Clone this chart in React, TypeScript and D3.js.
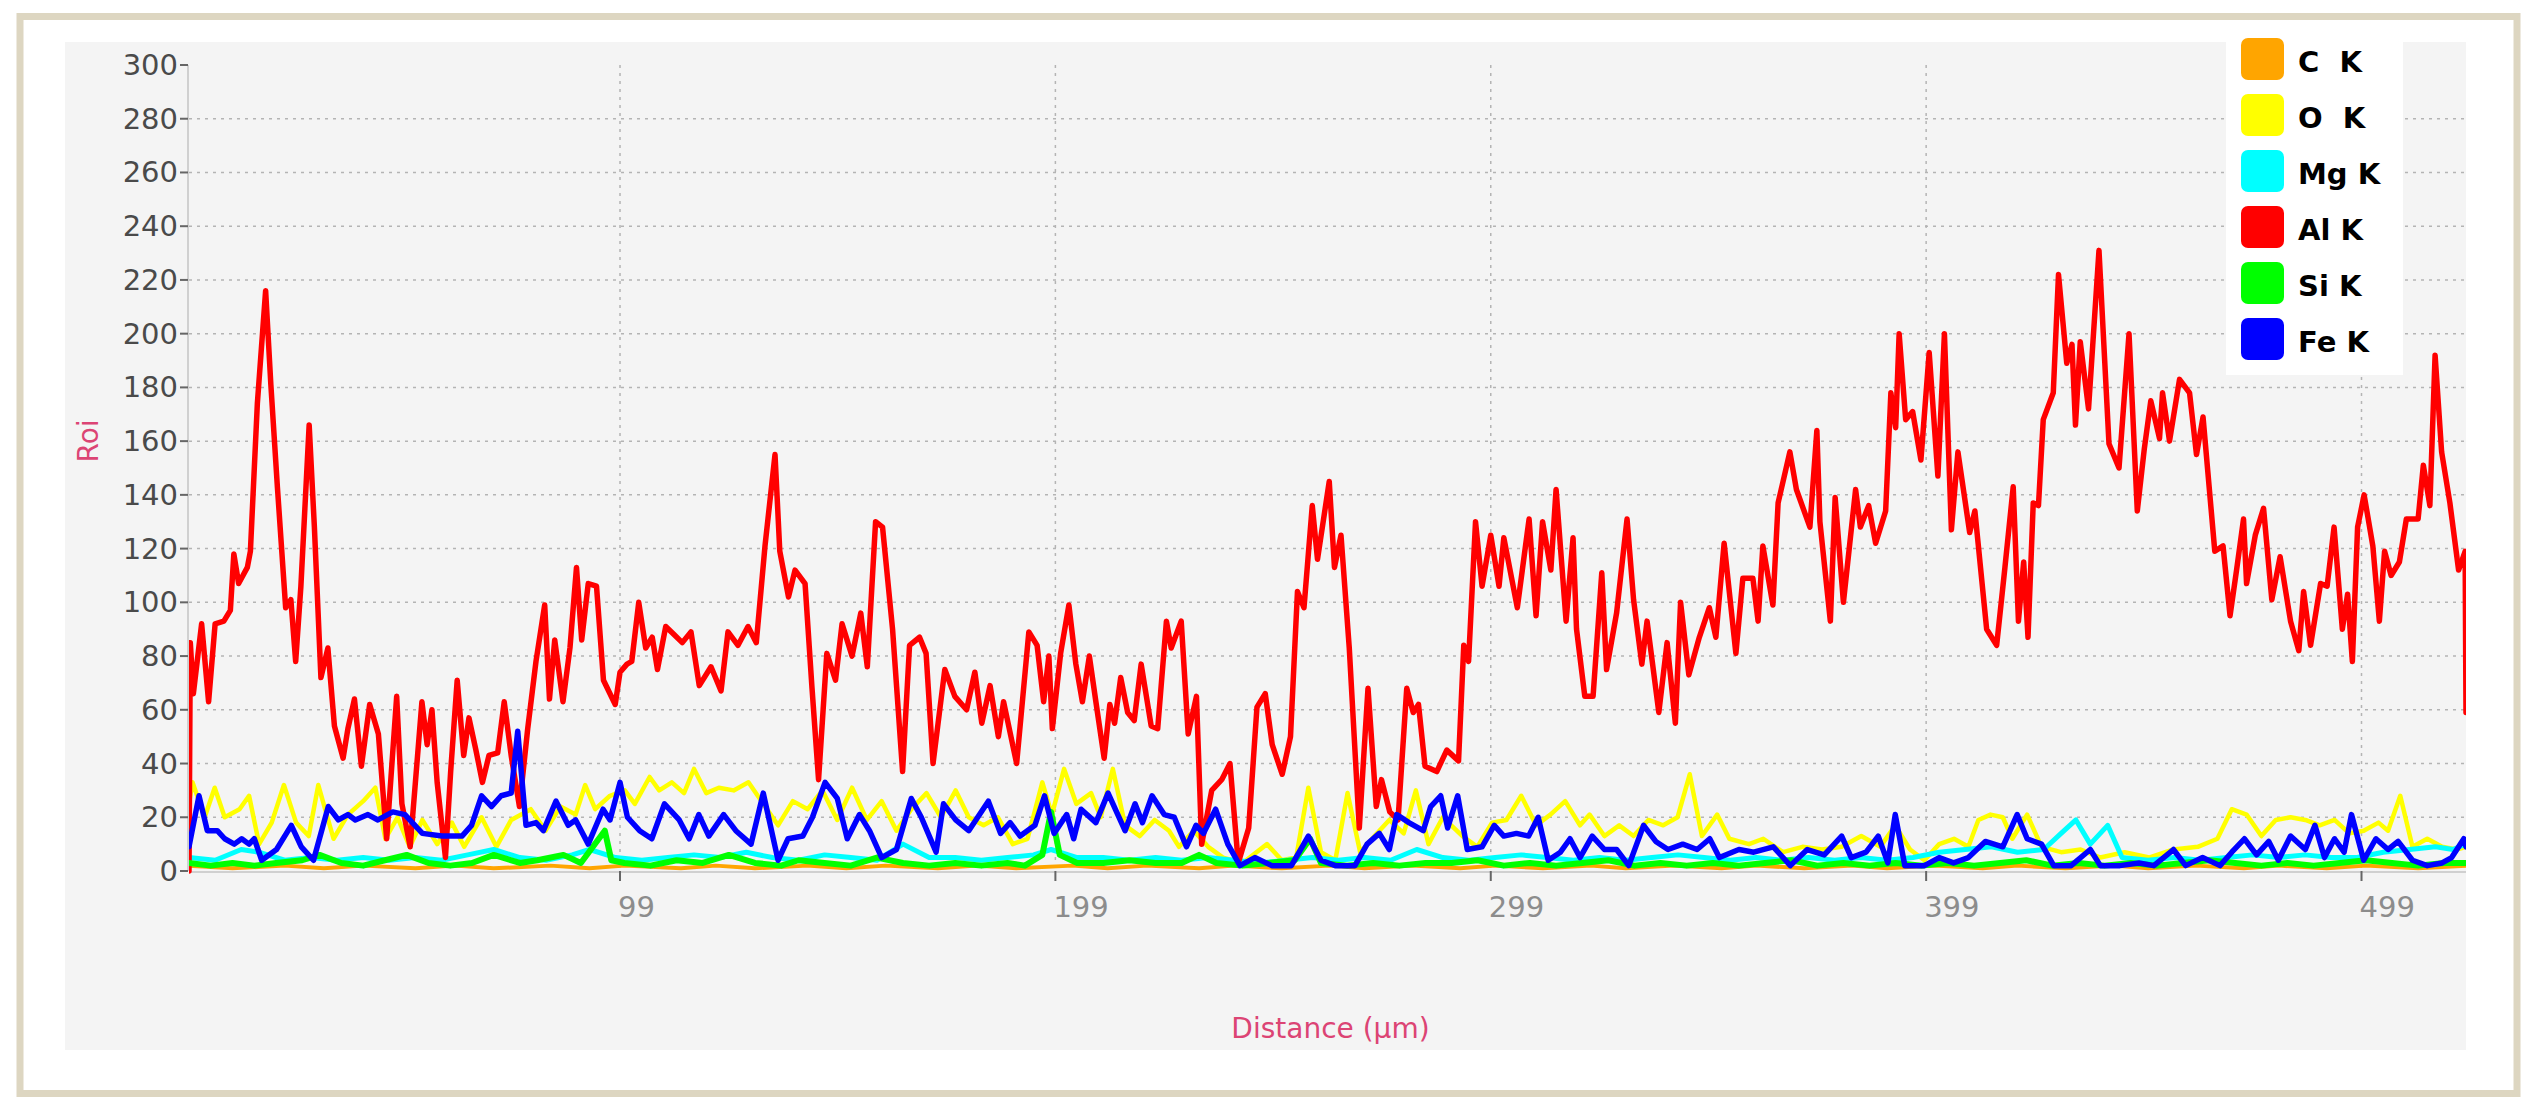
import React from 'react';
import * as d3 from 'd3';

// distance (µm) / counts pairs
const alK: [number, number][] = [
  [0, 0], [0.3, 85], [1, 66], [2.9, 92], [4.5, 63], [6, 92], [8, 93], [9.5, 97], [10.3, 118], [11.4, 107],
  [13.4, 113], [14.1, 119], [15.7, 174], [17.6, 216], [18.8, 181], [20.3, 143], [22.2, 98], [23.4, 101], [24.5, 78], [25.7, 106],
  [27.6, 166], [28.8, 128], [30.3, 72], [31.9, 83], [33.4, 54], [35.4, 42], [36.5, 53], [38, 64], [39.6, 39], [41.5, 62],
  [43.5, 51], [45.4, 12], [47.7, 65], [48.9, 25], [50.8, 9], [53.5, 63], [54.7, 47], [55.8, 60], [57, 33], [58.9, 5],
  [60.1, 37], [61.6, 71], [63.1, 43], [64.3, 57], [65.9, 45], [67.4, 33], [68.9, 43], [70.9, 44], [72.4, 63], [74, 43],
  [75.9, 24], [77.8, 53], [79.7, 78], [81.7, 99], [82.8, 64], [84, 86], [85.9, 63], [87.5, 83], [89, 113], [90.2, 86],
  [91.7, 107], [93.6, 106], [95.2, 71], [97.9, 62], [99, 74], [100.6, 77], [101.7, 78], [103.3, 100], [104.9, 83], [106.4, 87],
  [107.6, 75], [109.5, 91], [111.4, 88], [113.3, 85], [115.3, 89], [117.2, 69], [119.9, 76], [122.2, 67], [123.8, 89], [126.1, 84],
  [128.4, 91], [130.3, 85], [132.3, 121], [134.6, 155], [135.7, 119], [137.7, 102], [139.2, 112], [141.5, 107], [143.1, 68], [144.6, 34],
  [146.5, 81], [148.5, 71], [150, 92], [152.3, 80], [154.3, 96], [155.8, 76], [157.7, 130], [159.3, 128], [161.6, 90], [163.9, 37],
  [165.5, 84], [167.8, 87], [169.3, 81], [170.9, 40], [173.6, 75], [175.9, 65], [178.6, 60], [180.5, 74], [182.1, 55], [184, 69],
  [185.9, 50], [187.1, 63], [190.1, 40], [192.9, 89], [194.8, 84], [196.3, 63], [197.5, 80], [198.3, 53], [200.2, 81], [202.1, 99],
  [203.7, 77], [205.2, 63], [206.8, 80], [208.3, 63], [210.2, 42], [211.5, 62], [212.6, 55], [214, 72], [215.6, 59], [217.1, 56],
  [218.7, 77], [221, 54], [222.5, 53], [224.5, 93], [225.6, 83], [227.9, 93], [229.5, 51], [231.4, 65], [232.6, 10], [234.9, 30],
  [237.2, 34], [239.1, 40], [241, 3], [243.4, 16], [245.3, 61], [247.2, 66], [248.8, 47], [251.1, 36], [253, 50], [254.6, 104],
  [256.1, 98], [258, 136], [259.2, 116], [261.9, 145], [263.1, 113], [264.6, 125], [266.5, 83], [268.8, 16], [270.8, 68], [272.7, 24],
  [273.9, 34], [275.8, 22], [277.7, 19], [279.7, 68], [281.2, 59], [282.4, 62], [283.9, 39], [286.6, 37], [288.9, 45], [291.6, 41],
  [292.8, 84], [293.9, 78], [295.5, 130], [297, 106], [299, 125], [300.9, 106], [302, 124], [305.1, 98], [307.8, 131], [309.4, 95],
  [310.9, 130], [312.8, 112], [314, 142], [316.3, 93], [317.9, 124], [318.7, 90], [320.6, 65], [322.5, 65], [324.5, 111], [325.6, 75],
  [327.9, 96], [330.3, 131], [331.8, 101], [333.7, 77], [334.9, 93], [337.6, 59], [339.5, 85], [341.4, 55], [342.6, 100], [344.5, 73],
  [346.9, 87], [349.2, 98], [350.7, 87], [352.6, 122], [355.3, 81], [356.9, 109], [359.2, 109], [360.4, 93], [361.5, 121], [363.8, 99],
  [365, 137], [367.7, 156], [369.2, 142], [372.3, 128], [373.9, 164], [374.6, 130], [377, 93], [378.1, 139], [380, 100], [382.8, 142],
  [383.9, 128], [385.8, 136], [387.4, 122], [389.7, 134], [390.9, 178], [392, 165], [392.8, 200], [394.3, 168], [395.9, 171], [397.8, 153],
  [399.7, 193], [401.7, 147], [403.2, 200], [404.8, 127], [406.3, 156], [409, 126], [410.2, 134], [412.9, 90], [415.2, 84], [417.1, 113],
  [419, 143], [420.2, 93], [421.4, 115], [422.4, 87], [423.6, 137], [424.8, 136], [425.9, 168], [428.2, 178], [429.4, 222], [431.3, 189],
  [432.5, 196], [433.3, 166], [434.4, 197], [436.3, 172], [438.7, 231], [441, 159], [443.3, 150], [445.6, 200], [447.5, 134], [449.1, 157],
  [450.6, 175], [452.6, 161], [453.3, 178], [454.9, 160], [457.2, 183], [459.5, 178], [461.1, 155], [462.6, 169], [465.3, 119], [467.2, 121],
  [468.8, 95], [470.3, 112], [471.9, 131], [472.6, 107], [474.6, 125], [476.5, 135], [478.4, 101], [480.3, 117], [482.7, 93], [484.6, 82],
  [485.7, 104], [487.3, 84], [489.6, 107], [491.1, 106], [492.7, 128], [494.6, 90], [495.8, 103], [496.9, 78], [498.1, 128], [499.6, 140],
  [501.6, 121], [503.1, 93], [504.3, 119], [505.8, 110], [507.7, 115], [509.3, 131], [512, 131], [513.2, 151], [514.7, 136], [515.9, 192],
  [517.4, 156], [519.3, 137], [521.3, 112], [522.8, 119], [523, 59],
];

const feK: [number, number][] = [
  [0, 9], [2.3, 28], [4.2, 15], [6.5, 15], [8.2, 12], [10.4, 10], [12.1, 12], [13.8, 10], [15, 12], [16.7, 4],
  [20.1, 8], [23.5, 17], [25.8, 9], [28.6, 4], [32, 24], [34.3, 19], [36.5, 21], [38.2, 19], [41.1, 21], [43.4, 19],
  [46.8, 22], [49.6, 21], [53.6, 14], [58.1, 13], [62.7, 13], [64.9, 17], [67.2, 28], [69.5, 24], [71.7, 28], [74, 29],
  [75.5, 52], [77.4, 17], [79.7, 18], [81.4, 15], [84.3, 26], [87.1, 17], [88.8, 19], [91.7, 10], [95.1, 23], [96.7, 19],
  [99, 33], [100.7, 20], [103.5, 15], [106.3, 12], [109.2, 25], [112.6, 19], [114.9, 12], [117.1, 21], [119.4, 13], [122.8, 21],
  [125.6, 15], [129.1, 10], [131.9, 29], [135.3, 4], [137.6, 12], [141, 13], [143.2, 20], [146.1, 33], [148.9, 27], [151.2, 12],
  [154, 21], [156.3, 15], [159.1, 5], [162.5, 8], [165.9, 27], [168.2, 20], [171.6, 7], [173.3, 25], [176.1, 19], [179.1, 15],
  [183.6, 26], [186.4, 14], [188.6, 18], [190.9, 13], [194.3, 17], [196.5, 28], [198.7, 14], [201.6, 21], [203.2, 12], [204.9, 23],
  [208.3, 18], [211.1, 29], [215, 15], [217.3, 25], [219, 18], [221.2, 28], [224, 21], [226.3, 20], [229.1, 9], [231.3, 17],
  [233, 14], [235.8, 23], [238.6, 10], [241.4, 2], [244.8, 5], [248.7, 2], [253.2, 2], [257.1, 13], [260, 4], [263.3, 2],
  [267.8, 2], [270.6, 10], [273.4, 14], [275.7, 8], [277.4, 21], [280.2, 18], [283.5, 15], [285.2, 24], [287.5, 28], [289.1, 16],
  [291.4, 28], [293.6, 8], [297, 9], [299.8, 17], [302, 13], [304.9, 14], [307.7, 13], [309.9, 20], [312.2, 4], [315, 7],
  [317.2, 12], [319.5, 5], [322.3, 13], [325.1, 8], [327.9, 8], [330.7, 2], [334.1, 17], [336.9, 11], [339.7, 8], [343.1, 10],
  [346.4, 8], [349.3, 12], [351.5, 5], [356, 8], [359.4, 7], [363.9, 9], [367.8, 2], [371.7, 8], [375.6, 6], [379.6, 13],
  [381.8, 5], [385.2, 7], [388, 13], [390.2, 3], [391.9, 21], [394.1, 2], [398.6, 2], [402, 5], [405.3, 3], [408.7, 5],
  [412.6, 11], [416.6, 9], [419.9, 21], [422.2, 12], [425.5, 10], [428.3, 2], [432.3, 2], [436.7, 8], [439, 2], [443.5, 2],
  [447.9, 3], [451.3, 2], [455.8, 8], [458.6, 2], [462.5, 5], [466.5, 2], [469.2, 7], [472.1, 12], [474.9, 6], [477.7, 11],
  [479.9, 4], [482.7, 13], [486.1, 8], [488.3, 17], [490.5, 5], [492.8, 12], [495, 7], [496.7, 21], [499.5, 4], [502.3, 12],
  [505.1, 8], [507.4, 11], [510.7, 4], [514.1, 2], [517.5, 3], [519.7, 5], [522.5, 12], [523, 9],
];

const oK: [number, number][] = [
  [0, 25], [0.8, 33], [3.6, 20], [5.9, 31], [8.2, 20], [11.6, 23], [13.8, 28], [16.1, 10], [19, 18], [21.8, 32],
  [24.6, 18], [27.5, 13], [29.7, 32], [33.2, 12], [36.5, 21], [40, 26], [42.8, 31], [45.1, 12], [47.9, 20], [50.7, 9],
  [53.6, 19], [57, 10], [60.4, 18], [63.2, 9], [67.2, 20], [70.6, 9], [74, 19], [78.5, 23], [81.9, 15], [85.3, 24],
  [88.8, 21], [91, 32], [93.3, 23], [96.7, 28], [100.1, 30], [102.4, 25], [105.8, 35], [108, 30], [110.9, 33], [113.7, 29],
  [116, 38], [118.8, 29], [121.7, 31], [125.1, 30], [128.5, 33], [131.9, 25], [135.3, 17], [138.7, 26], [142.1, 23], [145.5, 30],
  [148.9, 19], [152.3, 31], [155.7, 19], [159.1, 26], [162.5, 15], [165.9, 23], [169.4, 29], [172.7, 20], [176.1, 30], [179.1, 20],
  [182.5, 17], [185.8, 20], [189.2, 10], [192.6, 12], [196, 33], [198.2, 21], [201, 38], [203.8, 25], [207.2, 29], [209.4, 20],
  [212.2, 38], [215, 17], [218.4, 13], [221.8, 19], [225.1, 15], [227.4, 9], [230.8, 15], [234.1, 9], [237.5, 5], [242, 3],
  [247.6, 10], [251, 4], [254.3, 5], [257.1, 31], [260, 7], [263.3, 4], [266.1, 29], [269, 7], [272.3, 13], [275.7, 19],
  [279, 14], [281.8, 30], [284.7, 10], [288, 20], [292.5, 13], [295.9, 9], [299.3, 18], [302.6, 19], [306, 28], [309.4, 17],
  [312.7, 21], [316.1, 26], [319.5, 17], [321.7, 21], [325.1, 13], [328.5, 17], [331.8, 13], [335.2, 19], [338.6, 17], [341.9, 20],
  [344.7, 36], [347.5, 13], [351, 21], [353.8, 12], [358.3, 10], [361.6, 12], [366.1, 7], [370.6, 9], [375.1, 8], [379.6, 9],
  [384.1, 13], [388.5, 9], [391.9, 17], [395.3, 8], [398.6, 4], [402, 10], [405.4, 12], [408.7, 9], [411, 19], [413.8, 21],
  [416.6, 20], [418.8, 12], [422.2, 21], [425.5, 9], [430, 7], [434.5, 8], [439, 5], [444.6, 7], [450.2, 5], [455.8, 8],
  [461.4, 9], [465.9, 12], [469.2, 23], [472.6, 21], [476, 13], [479.3, 19], [482.7, 20], [486.1, 19], [489.4, 17], [492.8, 19],
  [496.2, 14], [499.5, 15], [502.9, 18], [505.1, 15], [507.9, 28], [510.7, 9], [514.1, 12], [517.5, 9], [520.8, 8], [523, 9],
];

const mgK: [number, number][] = [
  [0, 5], [6, 4], [12, 8], [16, 7], [22, 4], [28, 5], [34, 4], [40, 5], [46, 4], [52, 5],
  [58, 4], [64, 6], [70, 8], [76, 5], [82, 4], [88, 6], [92, 8], [98, 5], [104, 4], [110, 5],
  [116, 6], [122, 5], [128, 7], [134, 5], [140, 4], [146, 6], [152, 5], [158, 4], [164, 10], [170, 5],
  [176, 5], [182, 4], [188, 5], [194, 6], [198, 8], [204, 5], [210, 5], [216, 4], [222, 5], [228, 4],
  [234, 5], [240, 4], [246, 3], [252, 4], [258, 5], [264, 4], [270, 5], [276, 4], [282, 8], [288, 5],
  [294, 4], [300, 5], [306, 6], [312, 5], [318, 4], [324, 5], [330, 4], [336, 5], [342, 6], [348, 5],
  [354, 4], [360, 5], [366, 4], [372, 5], [378, 4], [384, 5], [390, 4], [396, 5], [402, 7], [408, 8],
  [414, 9], [420, 7], [426, 8], [430, 14], [433.4, 19], [436.7, 10], [440.7, 17], [444, 5], [450, 4], [456, 5],
  [462, 4], [468, 5], [474, 6], [480, 5], [486, 6], [492, 5], [498, 5], [504, 7], [510, 8], [516, 9],
  [520, 8], [523, 10],
];

const siK: [number, number][] = [
  [0, 3], [5, 2], [10, 3], [15, 2], [20, 3], [26, 4], [30, 6], [35, 3], [40, 2], [45, 4],
  [50, 6], [55, 3], [60, 2], [65, 3], [70, 6], [76, 3], [80, 4], [86, 6], [90, 3], [95.5, 15],
  [97, 4], [100, 3], [106, 2], [112, 4], [118, 3], [124, 6], [130, 3], [136, 2], [140, 4], [146, 3],
  [152, 2], [158, 5], [164, 3], [170, 2], [176, 3], [182, 2], [188, 3], [192, 2], [196, 6], [198, 22],
  [200, 6], [204, 3], [210, 3], [216, 4], [222, 3], [228, 3], [232, 6], [236, 3], [242, 2], [248, 3],
  [254, 4], [257.5, 12], [260, 3], [266, 2], [272, 3], [278, 2], [284, 3], [290, 3], [296, 4], [302, 2],
  [308, 3], [314, 2], [320, 3], [326, 4], [332, 2], [338, 3], [344, 2], [350, 3], [356, 2], [362, 3],
  [368, 4], [374, 2], [380, 3], [386, 2], [392, 3], [398, 2], [404, 3], [410, 2], [416, 3], [422, 4],
  [428, 2], [434, 3], [440, 2], [446, 3], [452, 2], [458, 3], [464, 4], [470, 3], [476, 2], [482, 3],
  [488, 2], [494, 3], [500, 4], [506, 3], [512, 2], [518, 3], [523, 3],
];

const cK: [number, number][] = [
  [0, 2], [10, 1], [22, 2], [31, 1], [40, 2], [52, 1], [61, 2], [70, 1], [83, 2], [92, 1],
  [100, 2], [113, 1], [121, 2], [130, 1], [142, 2], [151, 1], [160, 2], [172, 1], [181, 2], [190, 1],
  [203, 2], [211, 1], [220, 2], [232, 1], [240, 2], [251, 1], [262, 2], [270, 1], [281, 2], [292, 1],
  [300, 2], [311, 1], [322, 2], [330, 1], [341, 2], [352, 1], [360, 2], [371, 1], [382, 2], [390, 1],
  [401, 2], [412, 1], [420, 2], [431, 1], [442, 2], [450, 1], [461, 2], [472, 1], [480, 2], [491, 1],
  [500, 2], [512, 1], [523, 2],
];

const series = [
  { name: 'C  K', color: '#ffa500', width: 4, data: cK },
  { name: 'O  K', color: '#ffff00', width: 4.5, data: oK },
  { name: 'Mg K', color: '#00ffff', width: 5, data: mgK },
  { name: 'Al K', color: '#ff0000', width: 5.5, data: alK },
  { name: 'Si K', color: '#00ff00', width: 6, data: siK },
  { name: 'Fe K', color: '#0000ff', width: 5.5, data: feK },
];

const yTicks = [0, 20, 40, 60, 80, 100, 120, 140, 160, 180, 200, 220, 240, 260, 280, 300];
const xTicks = [99, 199, 299, 399, 499];

const W = 2545;
const H = 1111;
const plot = { left: 189, right: 2466, top: 65, bottom: 871 };
const font = 'DejaVu Sans, sans-serif';
const titleColor = '#dc4474';

const App = () => {
  const x = d3.scaleLinear().domain([0, 523]).range([plot.left, plot.right]);
  const y = d3.scaleLinear().domain([0, 300]).range([plot.bottom, plot.top]);
  const line = d3.line<[number, number]>().x(d => x(d[0])).y(d => y(d[1]));

  return (
    <svg width={W} height={H} style={{ position: 'absolute', left: 0, top: 0, display: 'block', background: '#fff' }}>
      <defs>
        <clipPath id="plotClip">
          <rect x={plot.left} y={40} width={plot.right - plot.left} height={plot.bottom - 35} />
        </clipPath>
      </defs>
      <rect x={20} y={16.5} width={2497} height={1077} fill="#fff" stroke="#ddd6c1" strokeWidth={7} />
      <rect x={65} y={42} width={plot.right - 65} height={1008} fill="#f4f4f4" />

      {/* grid */}
      {yTicks.filter(t => t > 0 && t < 300).map(t => (
        <line key={'gy' + t} x1={plot.left} x2={plot.right} y1={y(t)} y2={y(t)}
          stroke="#b4b4b4" strokeWidth={1.5} strokeDasharray="3,5" />
      ))}
      {xTicks.map(t => (
        <line key={'gx' + t} x1={x(t)} x2={x(t)} y1={y(300)} y2={plot.bottom}
          stroke="#b4b4b4" strokeWidth={1.5} strokeDasharray="3,5" />
      ))}

      {/* axes */}
      <line x1={plot.left - 1} x2={plot.left - 1} y1={y(300)} y2={plot.bottom} stroke="#d0d0d0" strokeWidth={2} />
      <line x1={plot.left} x2={plot.right} y1={plot.bottom + 1} y2={plot.bottom + 1} stroke="#d0d0d0" strokeWidth={2} />
      {yTicks.map(t => (
        <g key={'yt' + t}>
          <line x1={plot.left - 9} x2={plot.left - 1} y1={y(t)} y2={y(t)} stroke="#666" strokeWidth={2} />
          <text x={plot.left - 11} y={y(t) + 2} textAnchor="end" dominantBaseline="middle"
            style={{ fontFamily: font, fontSize: '29px', fill: '#4a4a4a' }}>{t}</text>
        </g>
      ))}
      {xTicks.map(t => (
        <g key={'xt' + t}>
          <line x1={x(t)} x2={x(t)} y1={plot.bottom} y2={plot.bottom + 10} stroke="#666" strokeWidth={2} />
          <text x={x(t) - 2} y={917} textAnchor="start"
            style={{ fontFamily: font, fontSize: '29px', fill: '#8c8c8c' }}>{t}</text>
        </g>
      ))}

      {/* series */}
      <g clipPath="url(#plotClip)">
        {series.map(s => (
          <path key={s.name} d={line(s.data) || ''} fill="none" stroke={s.color}
            strokeWidth={s.width} strokeLinejoin="round" strokeLinecap="round" />
        ))}
      </g>

      {/* titles */}
      <text transform={`translate(98, 441) rotate(-90)`} textAnchor="middle"
        style={{ fontFamily: font, fontSize: '28px', fill: titleColor }}>Roi</text>
      <text x={(plot.left + plot.right) / 2 + 3} y={1038} textAnchor="middle"
        style={{ fontFamily: font, fontSize: '28px', fill: titleColor }}>Distance (µm)</text>

      {/* legend */}
      <rect x={2226} y={28} width={177} height={347} fill="#fff" />
      {series.map((s, i) => (
        <g key={'lg' + s.name} transform={`translate(2241, ${38 + i * 56})`}>
          <rect width={43} height={42} rx={7} fill={s.color} />
          <text x={57} y={34} style={{ fontFamily: font, fontSize: '29px', fontWeight: 'bold', fill: '#000', whiteSpace: 'pre' }}>{s.name}</text>
        </g>
      ))}
    </svg>
  );
};

export default App;
